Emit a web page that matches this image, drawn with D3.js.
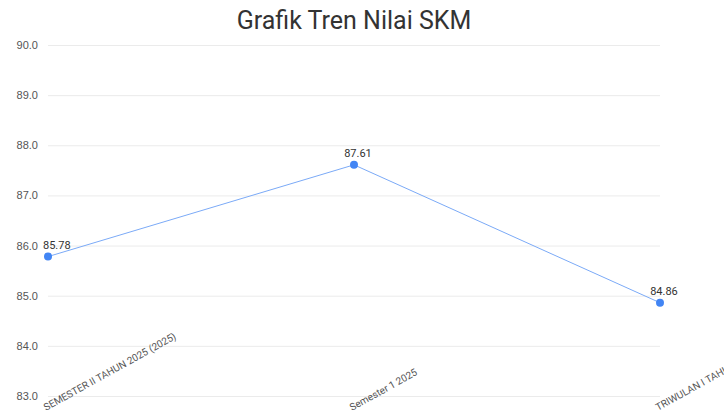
<!DOCTYPE html>
<html>
<head>
<meta charset="utf-8">
<script src="https://cdn.jsdelivr.net/npm/d3@7"></script>
<style>
  body { margin: 0; background: #fff; overflow: hidden; }
  svg { font-family: Roboto, "Liberation Sans", Arial, sans-serif; }
</style>
</head>
<body>
<div id="chart-container"></div>
<script>
// data
var periods = ["SEMESTER II TAHUN 2025 (2025)", "Semester 1 2025", "TRIWULAN I TAHUN 2025"];
var skmValues = [85.78, 87.61, 84.86];
var yTicks = [83, 84, 85, 86, 87, 88, 89, 90];

var svgWidth = 724;
var svgHeight = 417;
var margin = { top: 45, right: 64, bottom: 21, left: 48 };
var width = svgWidth - margin.left - margin.right;
var height = svgHeight - margin.top - margin.bottom;

var data = periods.map(function(p, i) { return { period: p, value: skmValues[i] }; });

var svg = d3.select('#chart-container')
    .append('svg')
    .attr('width', svgWidth)
    .attr('height', svgHeight);

svg.append("text")
    .attr("x", 354)
    .attr("y", 29)
    .style("text-anchor", "middle")
    .style("font-size", "25px")
    .style("fill", "#333")
    .text("Grafik Tren Nilai SKM");

var g = svg.append('g')
    .attr('transform', 'translate(' + margin.left + ',' + margin.top + ')');

// X Scale
var x = d3.scalePoint()
    .domain(periods)
    .range([0, width])
    .padding(0);

// Y Scale
var y = d3.scaleLinear()
    .domain([83, 90])
    .range([height, 0]);

// gridlines + tick labels
var yAxis = g.append('g')
    .call(d3.axisLeft(y).tickValues(yTicks).tickSize(-width).tickFormat(d3.format(".1f")));
yAxis.select(".domain").remove();
yAxis.selectAll("line").attr("stroke", "#ebebeb");
yAxis.selectAll("text")
    .attr("x", -10)
    .style("font-size", "11px")
    .style("fill", "#555");

// x labels, rotated
g.append('g')
    .selectAll("text")
    .data(periods)
    .enter().append("text")
    .attr("transform", function(d) { return "translate(" + (x(d) - 2) + "," + (height + 15) + ") rotate(-29)"; })
    .style("text-anchor", "start")
    .style("font-size", "10px")
    .style("fill", "#555")
    .text(function(d) { return d; });

// line
g.append("path")
    .datum(data)
    .attr("fill", "none")
    .attr("stroke", "#7baaf7")
    .attr("stroke-width", 1)
    .attr("d", d3.line()
        .x(function(d) { return x(d.period); })
        .y(function(d) { return y(d.value); }));

// dots
g.selectAll(".dot")
    .data(data)
    .enter().append("circle")
    .attr("class", "dot")
    .attr("cx", function(d) { return x(d.period); })
    .attr("cy", function(d) { return y(d.value); })
    .attr("r", 4)
    .style("fill", "#4285f4");

// value labels
g.selectAll(".lbl")
    .data(data)
    .enter().append("text")
    .attr("class", "lbl")
    .attr("x", function(d, i) { return i == 0 ? x(d.period) - 5 : x(d.period) + 4; })
    .attr("y", function(d) { return y(d.value) - 8; })
    .style("text-anchor", function(d, i) { return i == 0 ? "start" : "middle"; })
    .style("font-size", "11px")
    .style("fill", "#333")
    .text(function(d) { return d.value.toFixed(2); });
</script>
</body>
</html>
